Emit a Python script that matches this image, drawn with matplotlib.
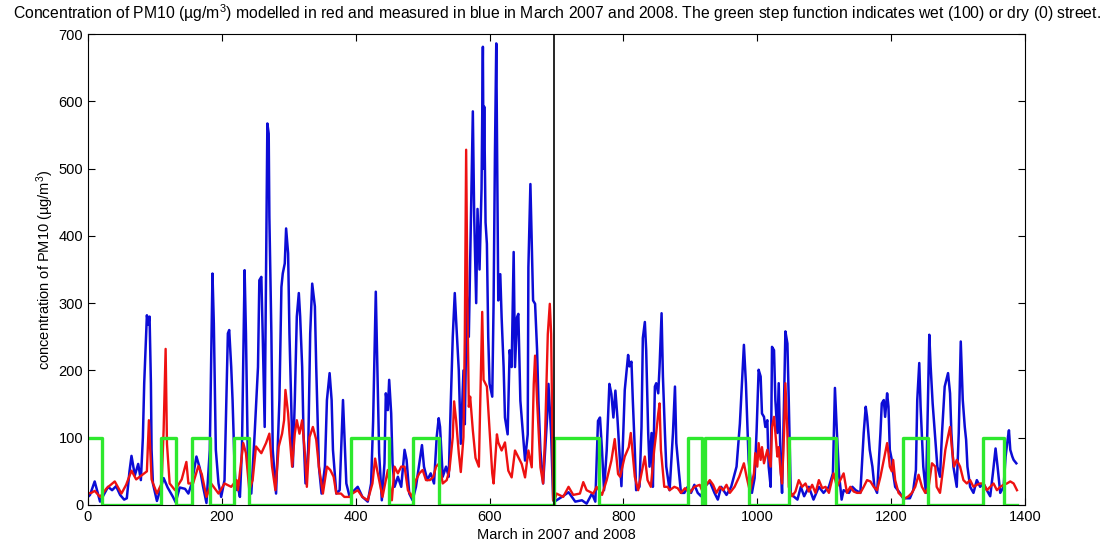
import numpy as np
import matplotlib
matplotlib.use("Agg")
import matplotlib.pyplot as plt

plt.rcParams['font.family'] = ['Liberation Sans', 'DejaVu Sans']
plt.rcParams['mathtext.fontset'] = 'custom'
plt.rcParams['mathtext.rm'] = 'Liberation Sans'
plt.rcParams['mathtext.it'] = 'Liberation Sans:italic'

#measured PM10 (blue), (hour, ug/m3)
blue_2007 = [(0,12),(3,15),(10,35),(14,20),(18,5),(25,18),(30,27),(36,22),(42,28),(48,15),(54,8),(58,10),
             (62,50),(65,73),(70,44),(75,61),(79,37),(82,100),(84,181),(88,282),(90,268),(92,280),(94,181),
             (95,82),(97,32),(103,6),(113,40),(119,26),(127,12),(131,4),(137,26),(145,24),(150,17),(155,32),
             (162,72),(167,55),(172,27),(177,3),(182,82),(186,344),(188,270),(191,82),(195,32),
             (199,12),(204,37),(209,255),(211,260),(214,205),(216,156),(219,57),(221,22),(224,27),(227,12),
             (230,82),(234,349),(236,255),(239,57),(244,17),(249,106),(254,205),(256,334),(259,339),(261,255),
             (264,116),(268,567),(270,552),(271,428),(274,255),(276,82),(281,17),(286,156),(289,324),(291,344),
             (294,359),(296,411),(299,374),(301,255),(306,57),(309,156),(312,280),(315,315),(317,280),(320,205),
             (322,106),(325,32),(329,82),(332,255),(335,329),(339,295),(341,205),(345,57),(349,17),(354,57),
             (357,156),(361,196),(364,156),(366,82),(371,17),(376,22),(381,156),(383,106),(386,32),(391,12),
             (396,20),(403,27),(410,12),(418,5),(423,32),(426,124),(430,317),(433,176),(435,77),(439,7),
             (443,62),(445,166),(448,141),(450,186),(453,136),(455,62),(458,27),(463,42),(468,27),(473,82),
             (476,67),(480,17),(485,7),(490,27),(495,62),(499,89),(502,57),(507,37),(512,47),(517,32),
             (521,101),(524,129),(526,116),(530,42),(535,57),(539,42),(542,151),(545,250),(548,315),(550,275),
             (554,200),(557,91),(561,200),(563,120),(566,310),(569,250),(572,420),(575,585),(577,430),(580,300),
             (582,440),(585,350),(588,470),(590,681),(591,500),(592,592),(594,420),(596,388),(598,250),(600,180),
             (604,161),(606,300),(608,520),(610,686),(613,304),(616,343),(618,279),(621,205),(623,130),(627,105),
             (630,230),(633,205),(636,376),(638,205),(641,279),(643,284),(646,155),(650,105),(653,66),(657,105),
             (658,353),(661,477),(665,304),(668,299),(671,230),(673,155),(676,81),(680,32),(683,81),(686,130),
             (688,180),(692,105),(695,7),(697,5)]
blue_2008 = [(700,7),(708,12),(718,19),(728,5),(738,7),(745,2),(753,17),(758,5),(762,125),(765,130),(768,81),
             (771,22),(775,81),(779,180),(782,165),(785,130),(788,170),(791,130),(795,61),(797,28),(802,171),
             (807,223),(809,206),(812,213),(814,156),(817,82),(819,22),(824,27),(827,116),(829,248),(832,272),
             (834,230),(837,107),(839,57),(842,107),(844,27),(847,176),(849,181),(852,166),(854,206),(857,285),
             (859,191),(862,107),(864,57),(869,22),(874,107),(877,176),(879,92),(883,48),(886,18),(891,18),
             (896,27),(901,18),(906,30),(911,18),(916,13),(921,27),(929,35),(936,18),(941,8),(946,27),(954,15),
             (961,27),(969,57),(974,121),(980,238),(983,181),(987,67),(992,18),(996,40),(999,111),(1002,201),
             (1005,191),(1007,136),(1010,131),(1012,116),(1015,126),(1017,57),(1020,27),(1022,235),(1025,230),
             (1027,156),(1030,107),(1032,181),(1035,57),(1037,18),(1040,156),(1042,258),(1045,240),(1047,156),
             (1050,18),(1054,13),(1060,8),(1065,27),(1070,13),(1077,27),(1084,8),(1092,27),(1099,18),(1107,27),
             (1113,47),(1116,174),(1119,107),(1122,47),(1126,8),(1129,22),(1137,18),(1142,27),(1147,22),
             (1154,18),(1159,107),(1162,146),(1164,131),(1168,82),(1172,57),(1175,27),(1179,18),(1184,107),
             (1186,151),(1189,156),(1191,131),(1194,166),(1196,146),(1198,82),(1201,67),(1203,47),(1206,27),
             (1213,18),(1218,10),(1228,10),(1233,22),(1237,52),(1239,156),(1242,211),(1244,146),(1248,57),
             (1252,18),(1254,107),(1257,253),(1259,206),(1262,151),(1266,97),(1269,57),(1273,42),(1276,107),
             (1280,176),(1283,188),(1285,196),(1288,166),(1290,107),(1293,57),(1298,27),(1301,107),(1304,243),
             (1307,156),(1310,116),(1312,97),(1314,57),(1318,27),(1323,18),(1328,37),(1333,27),(1338,32),
             (1343,22),(1348,13),(1352,47),(1356,84),(1359,57),(1363,18),(1368,27),(1371,72),(1374,97),
             (1376,111),(1378,82),(1381,72),(1383,67),(1387,62)]

#modelled PM10 (red)
red_2007 = [(0,17),(5,18),(10,21),(18,12),(28,25),(40,35),(50,17),(57,30),(65,51),(72,38),(80,44),(88,50),
            (91,126),(95,38),(103,17),(110,32),(113,111),(116,232),(118,91),(122,32),(130,22),(140,38),(147,64),
            (150,32),(157,32),(165,58),(170,46),(177,12),(184,32),(195,17),
            (204,32),(214,27),(222,37),(224,22),(232,92),(236,77),(241,22),(246,37),(251,87),(259,77),(266,92),
            (271,106),(275,57),(280,22),(285,87),(290,106),(293,126),(295,171),(299,136),(301,106),(305,57),
            (309,106),(312,126),(316,106),(320,126),(324,77),(327,27),(331,101),(336,116),(341,97),(345,57),
            (351,17),(357,57),(362,52),(367,42),(371,17),(378,17),(383,12),(391,12),
            (395,17),(403,22),(410,12),(418,7),(425,32),(429,69),(432,52),(436,32),(440,12),(444,32),(448,52),
            (451,30),(454,7),(458,57),(463,47),(468,57),(473,57),(478,22),(484,12),(490,37),(495,47),(500,52),
            (505,37),(511,37),(516,42),(520,57),(525,62),(530,32),(536,37),(540,52),(545,101),(547,154),
            (550,126),(554,77),(557,49),(561,101),(563,250),(565,528),(567,300),(569,146),(571,161),(575,111),
            (579,70),(584,57),(589,287),(591,186),(596,176),(600,111),(604,47),(606,32),(611,105),(613,93),
            (618,81),(623,93),(628,51),(633,41),(638,81),(643,71),(648,61),(653,41),(658,81),(663,56),(666,180),
            (668,222),(671,155),(676,56),(680,32),(683,105),(687,254),(690,299),(692,254),(695,7),(697,5)]
red_2008 = [(698,10),(700,17),(710,12),(718,27),(725,15),(735,17),(740,34),(745,22),(755,17),(760,27),(768,15),
            (775,37),(782,66),(787,98),(792,46),(795,42),(802,72),(808,86),(811,107),(817,42),(822,22),(827,47),
            (832,72),(836,37),(841,27),(846,82),(849,107),(852,136),(854,151),(856,82),(861,27),(866,27),
            (869,22),(876,27),(881,25),(886,18),(892,25),(899,18),(906,27),(914,30),(919,18),(924,30),(929,37),
            (934,30),(939,18),(944,27),(949,22),(954,30),(959,18),(966,27),(973,42),(980,62),(984,42),(989,20),
            (995,47),(997,77),(1000,57),(1002,92),(1005,67),(1007,86),(1010,62),(1015,82),(1020,57),(1022,116),
            (1025,131),(1027,107),(1030,72),(1032,86),(1035,47),(1037,32),(1040,107),(1042,181),(1045,107),
            (1047,27),(1052,13),(1057,20),(1062,37),(1067,27),(1072,32),(1077,20),(1082,30),(1087,18),(1092,37),
            (1097,25),(1102,27),(1107,18),(1114,47),(1119,27),(1124,37),(1129,47),(1134,18),(1139,27),(1144,20),
            (1149,18),(1154,18),(1159,27),(1164,37),(1169,35),(1174,27),(1179,22),(1184,42),(1189,67),(1194,92),
            (1196,77),(1198,57),(1201,50),(1203,67),(1206,37),(1211,18),(1216,13),(1221,10),(1226,13),(1231,18),
            (1236,27),(1241,45),(1246,27),(1251,18),(1256,27),(1261,62),(1266,57),(1268,27),(1273,18),(1278,57),
            (1281,82),(1285,102),(1288,116),(1291,82),(1294,57),(1298,67),(1303,57),(1308,37),(1313,32),
            (1318,37),(1323,27),(1328,30),(1333,32),(1338,32),(1343,22),(1348,27),(1353,32),(1358,22),(1363,27),
            (1368,30),(1373,32),(1378,35),(1383,32),(1388,22)]

#wet (100) / dry (0) street, value holds from each switch time
wet_t = [0, 21, 109, 131, 155, 182, 218, 241, 393, 450, 485, 525, 697, 763, 897, 917, 922, 988,
         1048, 1117, 1217, 1255, 1337, 1368, 1388]
wet_v = [100, 0, 100, 0, 100, 0, 100, 0, 100, 0, 100, 0, 100, 0, 100, 0, 100, 0,
         100, 0, 100, 0, 100, 0, 0]

year_split = 697

blue = np.array(blue_2007 + blue_2008)
red = np.array(red_2007 + red_2008)

fig = plt.figure(figsize=(11.11, 5.44), dpi=100)
ax = fig.add_axes([0.0792, 0.0717, 0.8434, 0.8658])

ax.plot(blue[:,0], blue[:,1], "-", color="#0c0cd6", lw=1.8)
ax.plot(red[:,0], red[:,1], "-", color="#ee1111", lw=1.7)
ax.step(wet_t, wet_v, where="post", color="#2ee82e", lw=2.4)
ax.plot([year_split, year_split], [0, 700], "-k", lw=1.2)

ax.set_xlim(0, 1400)
ax.set_ylim(0, 700)
ax.set_xticks(np.arange(0, 1401, 200))
ax.set_yticks(np.arange(0, 701, 100))
ax.tick_params(direction="in", top=True, right=True, length=5, labelsize=10.5)
ax.set_xlabel("March in 2007 and 2008", fontsize=10.5, labelpad=3)
ax.set_ylabel("concentration of PM10 (µg/m$^3$)", fontsize=10.5, labelpad=2)
ax.set_title("Concentration of PM10 (µg/m$^3$) modelled in red and measured in blue in March 2007 and 2008."
             " The green step function indicates wet (100) or dry (0) street.", fontsize=11.3, pad=11)

fig.savefig("out.png", dpi=100)
